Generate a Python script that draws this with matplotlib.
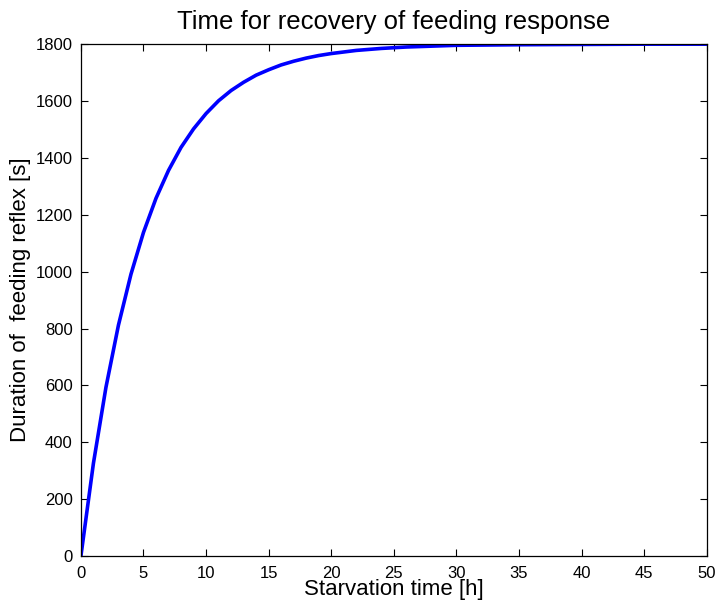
import numpy as np
import matplotlib
matplotlib.use('Agg')
import matplotlib.pyplot as plt

# values
hours = [0, 1, 2, 3, 4, 5, 6, 7, 8, 9, 10, 11, 12, 13, 14, 15, 16, 17, 18, 19,
         20, 22, 24, 26, 28, 30, 35, 40, 45, 50]
duration = [0, 326, 593, 812, 991, 1138, 1258, 1356, 1437, 1502, 1556, 1601,
            1637, 1666, 1691, 1710, 1727, 1740, 1751, 1760, 1767, 1778, 1785,
            1790, 1793, 1796, 1798, 1799, 1800, 1800]

xticks = [0, 5, 10, 15, 20, 25, 30, 35, 40, 45, 50]
yticks = [0, 200, 400, 600, 800, 1000, 1200, 1400, 1600, 1800]

plt.rcParams['font.family'] = ['Liberation Sans', 'DejaVu Sans']

fig = plt.figure(figsize=(7.16, 6.05), dpi=100)
ax = fig.add_axes([0.113, 0.081, 0.874, 0.846])

ax.plot(hours, duration, color=(0, 0, 1), linewidth=2.6)

ax.set_xlim(0, 50)
ax.set_ylim(0, 1800)
ax.set_xticks(xticks)
ax.set_yticks(yticks)
ax.tick_params(direction='in', top=True, right=True, labelsize=12, length=5,
               width=0.8)
ax.tick_params(axis='x', pad=7)
ax.tick_params(axis='y', pad=6)
for s in ax.spines.values():
    s.set_linewidth(0.9)

ax.set_title('Time for recovery of feeding response', fontsize=18.5, pad=11)
ax.set_xlabel('Starvation time [h]', fontsize=16, labelpad=-1)
ax.set_ylabel('Duration of  feeding reflex [s]', fontsize=16, labelpad=3)

fig.savefig('out.png', dpi=100)
